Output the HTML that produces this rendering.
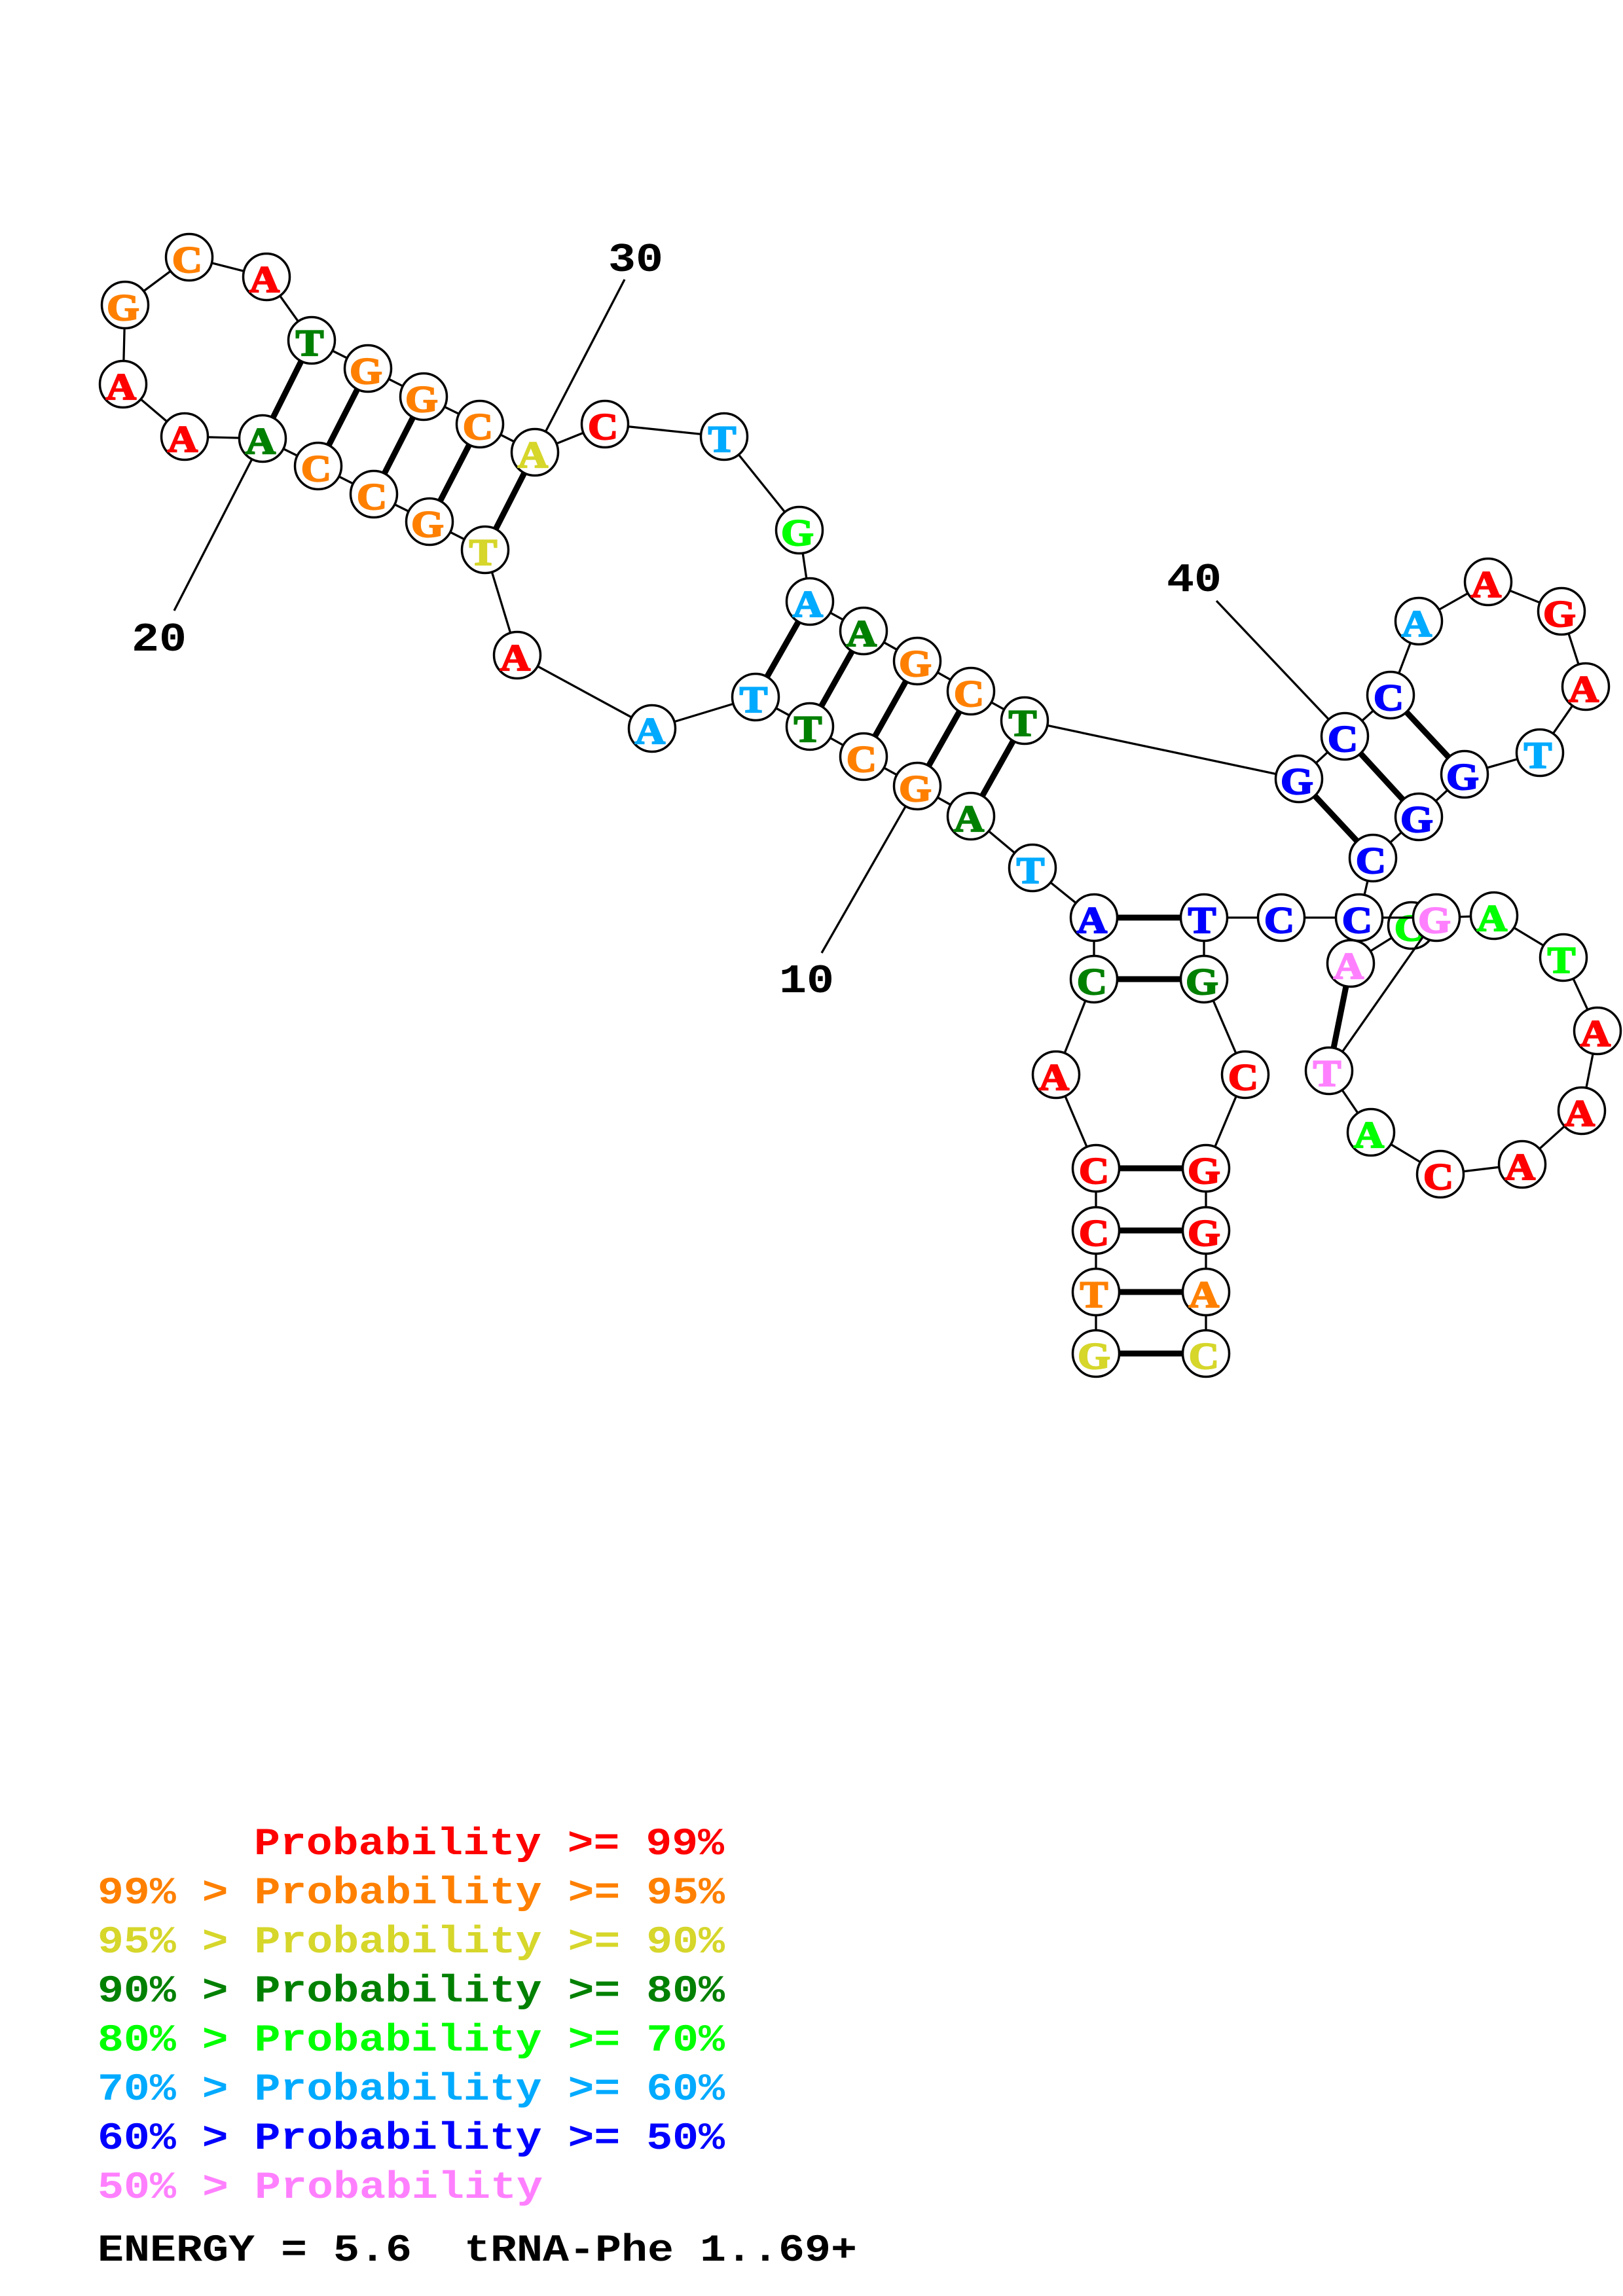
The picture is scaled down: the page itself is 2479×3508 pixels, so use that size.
<!DOCTYPE html>
<html>
<head>
<meta charset="utf-8">
<title>tRNA-Phe structure</title>
<style>
html,body{margin:0;padding:0;background:#fff}
svg{display:block}
.bb line{stroke:#000;stroke-width:3.3}
.bp line{stroke:#000;stroke-width:9}
circle{fill:#fff;stroke:#000;stroke-width:3.5}
.n text{font-family:"Liberation Serif",serif;font-weight:bold;font-size:57px;text-anchor:middle;stroke-width:2.2px;transform-box:fill-box;transform-origin:center;transform:translateY(-1px) scaleX(1.12)}
.leg text,.lab text{font-family:"Liberation Mono",monospace;font-weight:bold;white-space:pre}
.leg text{font-size:58px}
.lab text{font-size:62px}
.r{fill:#ff0000;stroke:#ff0000}
.o{fill:#ff8000;stroke:#ff8000}
.y{fill:#d6d62b;stroke:#d6d62b}
.d{fill:#008000;stroke:#008000}
.m{fill:#00ff00;stroke:#00ff00}
.l{fill:#00aaff;stroke:#00aaff}
.b{fill:#0000ff;stroke:#0000ff}
.p{fill:#ff80ff;stroke:#ff80ff}
.leg .r,.leg .o,.leg .y,.leg .d,.leg .m,.leg .l,.leg .b,.leg .p{stroke:none}
</style>
</head>
<body>
<svg xmlns="http://www.w3.org/2000/svg" width="2479" height="3508" viewBox="0 0 2479 3508">
<rect width="2479" height="3508" fill="#fff"/>

<g class="bb"><line x1="2063" y1="1472" x2="2156" y2="1414"/></g>
<g class="n"><circle cx="2156" cy="1414" r="35.5"/><text x="2153" y="1438" class="m">C</text></g>

<g class="bb">
<line x1="1674" y1="2068" x2="1674" y2="1974"/>
<line x1="1674" y1="1974" x2="1674" y2="1880"/>
<line x1="1674" y1="1880" x2="1674" y2="1785"/>
<line x1="1674" y1="1785" x2="1613" y2="1642"/>
<line x1="1613" y1="1642" x2="1671" y2="1496"/>
<line x1="1671" y1="1496" x2="1671" y2="1402"/>
<line x1="1671" y1="1402" x2="1577" y2="1326"/>
<line x1="1577" y1="1326" x2="1483" y2="1247"/>
<line x1="1483" y1="1247" x2="1401" y2="1201"/>
<line x1="1401" y1="1201" x2="1319" y2="1156"/>
<line x1="1319" y1="1156" x2="1237" y2="1110"/>
<line x1="1237" y1="1110" x2="1154" y2="1065"/>
<line x1="1154" y1="1065" x2="996" y2="1113"/>
<line x1="996" y1="1113" x2="790" y2="1001"/>
<line x1="790" y1="1001" x2="741" y2="840"/>
<line x1="741" y1="840" x2="656" y2="797"/>
<line x1="656" y1="797" x2="571" y2="755"/>
<line x1="571" y1="755" x2="486" y2="712"/>
<line x1="486" y1="712" x2="401" y2="670"/>
<line x1="401" y1="670" x2="282" y2="667"/>
<line x1="282" y1="667" x2="188" y2="587"/>
<line x1="188" y1="587" x2="191" y2="466"/>
<line x1="191" y1="466" x2="289" y2="393"/>
<line x1="289" y1="393" x2="407" y2="423"/>
<line x1="407" y1="423" x2="476" y2="520"/>
<line x1="476" y1="520" x2="562" y2="563"/>
<line x1="562" y1="563" x2="647" y2="606"/>
<line x1="647" y1="606" x2="733" y2="648"/>
<line x1="733" y1="648" x2="817" y2="691"/>
<line x1="817" y1="691" x2="924" y2="648"/>
<line x1="924" y1="648" x2="1106" y2="667"/>
<line x1="1106" y1="667" x2="1221" y2="810"/>
<line x1="1221" y1="810" x2="1237" y2="919"/>
<line x1="1237" y1="919" x2="1319" y2="964"/>
<line x1="1319" y1="964" x2="1401" y2="1010"/>
<line x1="1401" y1="1010" x2="1483" y2="1056"/>
<line x1="1483" y1="1056" x2="1565" y2="1101"/>
<line x1="1565" y1="1101" x2="1984" y2="1190"/>
<line x1="1984" y1="1190" x2="2054" y2="1125"/>
<line x1="2054" y1="1125" x2="2124" y2="1062"/>
<line x1="2124" y1="1062" x2="2167" y2="949"/>
<line x1="2167" y1="949" x2="2273" y2="889"/>
<line x1="2273" y1="889" x2="2385" y2="934"/>
<line x1="2385" y1="934" x2="2422" y2="1049"/>
<line x1="2422" y1="1049" x2="2352" y2="1150"/>
<line x1="2352" y1="1150" x2="2237" y2="1183"/>
<line x1="2237" y1="1183" x2="2167" y2="1248"/>
<line x1="2167" y1="1248" x2="2097" y2="1311"/>
<line x1="2097" y1="1311" x2="2076" y2="1402"/>
<line x1="2076" y1="1402" x2="1957" y2="1402"/>
<line x1="1957" y1="1402" x2="1839" y2="1402"/>
<line x1="1839" y1="1402" x2="1839" y2="1496"/>
<line x1="1839" y1="1496" x2="1902" y2="1642"/>
<line x1="1902" y1="1642" x2="1842" y2="1785"/>
<line x1="1842" y1="1785" x2="1842" y2="1880"/>
<line x1="1842" y1="1880" x2="1842" y2="1974"/>
<line x1="1842" y1="1974" x2="1842" y2="2068"/>
<line x1="2076" y1="1402" x2="2194" y2="1402"/>
<line x1="2194" y1="1402" x2="2282" y2="1399"/>
<line x1="2282" y1="1399" x2="2388" y2="1463"/>
<line x1="2388" y1="1463" x2="2440" y2="1575"/>
<line x1="2440" y1="1575" x2="2416" y2="1697"/>
<line x1="2416" y1="1697" x2="2325" y2="1779"/>
<line x1="2325" y1="1779" x2="2200" y2="1794"/>
<line x1="2200" y1="1794" x2="2094" y2="1730"/>
<line x1="2094" y1="1730" x2="2030" y2="1636"/>
<line x1="2030" y1="1636" x2="2194" y2="1402"/>
<line x1="401" y1="670" x2="266" y2="933"/>
<line x1="1401" y1="1201" x2="1255" y2="1456"/>
<line x1="817" y1="691" x2="954" y2="427"/>
<line x1="2054" y1="1125" x2="1858" y2="918"/>
</g>

<g class="bp">
<line x1="401" y1="670" x2="476" y2="520"/>
<line x1="486" y1="712" x2="562" y2="563"/>
<line x1="571" y1="755" x2="647" y2="606"/>
<line x1="656" y1="797" x2="733" y2="648"/>
<line x1="741" y1="840" x2="817" y2="691"/>
<line x1="1154" y1="1065" x2="1237" y2="919"/>
<line x1="1237" y1="1110" x2="1319" y2="964"/>
<line x1="1319" y1="1156" x2="1401" y2="1010"/>
<line x1="1401" y1="1201" x2="1483" y2="1056"/>
<line x1="1483" y1="1247" x2="1565" y2="1101"/>
<line x1="1984" y1="1190" x2="2097" y2="1311"/>
<line x1="2054" y1="1125" x2="2167" y2="1248"/>
<line x1="2124" y1="1062" x2="2237" y2="1183"/>
<line x1="1671" y1="1402" x2="1839" y2="1402"/>
<line x1="1671" y1="1496" x2="1839" y2="1496"/>
<line x1="1674" y1="1785" x2="1842" y2="1785"/>
<line x1="1674" y1="1880" x2="1842" y2="1880"/>
<line x1="1674" y1="1974" x2="1842" y2="1974"/>
<line x1="1674" y1="2068" x2="1842" y2="2068"/>
<line x1="2063" y1="1472" x2="2030" y2="1636"/>
</g>

<g class="n">
<circle cx="1674" cy="2068" r="35.5"/><text x="1671" y="2092" class="y">G</text>
<circle cx="1674" cy="1974" r="35.5"/><text x="1671" y="1998" class="o">T</text>
<circle cx="1674" cy="1880" r="35.5"/><text x="1671" y="1904" class="r">C</text>
<circle cx="1674" cy="1785" r="35.5"/><text x="1671" y="1809" class="r">C</text>
<circle cx="1613" cy="1642" r="35.5"/><text x="1610" y="1666" class="r">A</text>
<circle cx="1671" cy="1496" r="35.5"/><text x="1668" y="1520" class="d">C</text>
<circle cx="1671" cy="1402" r="35.5"/><text x="1668" y="1426" class="b">A</text>
<circle cx="1577" cy="1326" r="35.5"/><text x="1574" y="1350" class="l">T</text>
<circle cx="1483" cy="1247" r="35.5"/><text x="1480" y="1271" class="d">A</text>
<circle cx="1401" cy="1201" r="35.5"/><text x="1398" y="1225" class="o">G</text>
<circle cx="1319" cy="1156" r="35.5"/><text x="1316" y="1180" class="o">C</text>
<circle cx="1237" cy="1110" r="35.5"/><text x="1234" y="1134" class="d">T</text>
<circle cx="1154" cy="1065" r="35.5"/><text x="1151" y="1089" class="l">T</text>
<circle cx="996" cy="1113" r="35.5"/><text x="993" y="1137" class="l">A</text>
<circle cx="790" cy="1001" r="35.5"/><text x="787" y="1025" class="r">A</text>
<circle cx="741" cy="840" r="35.5"/><text x="738" y="864" class="y">T</text>
<circle cx="656" cy="797" r="35.5"/><text x="653" y="821" class="o">G</text>
<circle cx="571" cy="755" r="35.5"/><text x="568" y="779" class="o">C</text>
<circle cx="486" cy="712" r="35.5"/><text x="483" y="736" class="o">C</text>
<circle cx="401" cy="670" r="35.5"/><text x="398" y="694" class="d">A</text>
<circle cx="282" cy="667" r="35.5"/><text x="279" y="691" class="r">A</text>
<circle cx="188" cy="587" r="35.5"/><text x="185" y="611" class="r">A</text>
<circle cx="191" cy="466" r="35.5"/><text x="188" y="490" class="o">G</text>
<circle cx="289" cy="393" r="35.5"/><text x="286" y="417" class="o">C</text>
<circle cx="407" cy="423" r="35.5"/><text x="404" y="447" class="r">A</text>
<circle cx="476" cy="520" r="35.5"/><text x="473" y="544" class="d">T</text>
<circle cx="562" cy="563" r="35.5"/><text x="559" y="587" class="o">G</text>
<circle cx="647" cy="606" r="35.5"/><text x="644" y="630" class="o">G</text>
<circle cx="733" cy="648" r="35.5"/><text x="730" y="672" class="o">C</text>
<circle cx="817" cy="691" r="35.5"/><text x="814" y="715" class="y">A</text>
<circle cx="924" cy="648" r="35.5"/><text x="921" y="672" class="r">C</text>
<circle cx="1106" cy="667" r="35.5"/><text x="1103" y="691" class="l">T</text>
<circle cx="1221" cy="810" r="35.5"/><text x="1218" y="834" class="m">G</text>
<circle cx="1237" cy="919" r="35.5"/><text x="1234" y="943" class="l">A</text>
<circle cx="1319" cy="964" r="35.5"/><text x="1316" y="988" class="d">A</text>
<circle cx="1401" cy="1010" r="35.5"/><text x="1398" y="1034" class="o">G</text>
<circle cx="1483" cy="1056" r="35.5"/><text x="1480" y="1080" class="o">C</text>
<circle cx="1565" cy="1101" r="35.5"/><text x="1562" y="1125" class="d">T</text>
<circle cx="1984" cy="1190" r="35.5"/><text x="1981" y="1214" class="b">G</text>
<circle cx="2054" cy="1125" r="35.5"/><text x="2051" y="1149" class="b">C</text>
<circle cx="2124" cy="1062" r="35.5"/><text x="2121" y="1086" class="b">C</text>
<circle cx="2167" cy="949" r="35.5"/><text x="2164" y="973" class="l">A</text>
<circle cx="2273" cy="889" r="35.5"/><text x="2270" y="913" class="r">A</text>
<circle cx="2385" cy="934" r="35.5"/><text x="2382" y="958" class="r">G</text>
<circle cx="2422" cy="1049" r="35.5"/><text x="2419" y="1073" class="r">A</text>
<circle cx="2352" cy="1150" r="35.5"/><text x="2349" y="1174" class="l">T</text>
<circle cx="2237" cy="1183" r="35.5"/><text x="2234" y="1207" class="b">G</text>
<circle cx="2167" cy="1248" r="35.5"/><text x="2164" y="1272" class="b">G</text>
<circle cx="2097" cy="1311" r="35.5"/><text x="2094" y="1335" class="b">C</text>
<circle cx="2076" cy="1402" r="35.5"/><text x="2073" y="1426" class="b">C</text>
<circle cx="2063" cy="1472" r="35.5"/><text x="2060" y="1496" class="p">A</text>
<circle cx="2194" cy="1402" r="35.5"/><text x="2191" y="1426" class="p">G</text>
<circle cx="2282" cy="1399" r="35.5"/><text x="2279" y="1423" class="m">A</text>
<circle cx="2388" cy="1463" r="35.5"/><text x="2385" y="1487" class="m">T</text>
<circle cx="2440" cy="1575" r="35.5"/><text x="2437" y="1599" class="r">A</text>
<circle cx="2416" cy="1697" r="35.5"/><text x="2413" y="1721" class="r">A</text>
<circle cx="2325" cy="1779" r="35.5"/><text x="2322" y="1803" class="r">A</text>
<circle cx="2200" cy="1794" r="35.5"/><text x="2197" y="1818" class="r">C</text>
<circle cx="2094" cy="1730" r="35.5"/><text x="2091" y="1754" class="m">A</text>
<circle cx="2030" cy="1636" r="35.5"/><text x="2027" y="1660" class="p">T</text>
<circle cx="1957" cy="1402" r="35.5"/><text x="1954" y="1426" class="b">C</text>
<circle cx="1839" cy="1402" r="35.5"/><text x="1836" y="1426" class="b">T</text>
<circle cx="1839" cy="1496" r="35.5"/><text x="1836" y="1520" class="d">G</text>
<circle cx="1902" cy="1642" r="35.5"/><text x="1899" y="1666" class="r">C</text>
<circle cx="1842" cy="1785" r="35.5"/><text x="1839" y="1809" class="r">G</text>
<circle cx="1842" cy="1880" r="35.5"/><text x="1839" y="1904" class="r">G</text>
<circle cx="1842" cy="1974" r="35.5"/><text x="1839" y="1998" class="o">A</text>
<circle cx="1842" cy="2068" r="35.5"/><text x="1839" y="2092" class="y">C</text>
</g>

<g class="lab">
<text x="201" y="994" textLength="84" lengthAdjust="spacingAndGlyphs">20</text>
<text x="1190" y="1516" textLength="84" lengthAdjust="spacingAndGlyphs">10</text>
<text x="929" y="414" textLength="84" lengthAdjust="spacingAndGlyphs">30</text>
<text x="1782" y="903" textLength="84" lengthAdjust="spacingAndGlyphs">40</text>
</g>

<g class="leg">
<text x="388" y="2833" class="r" textLength="718" lengthAdjust="spacingAndGlyphs" xml:space="preserve">Probability &gt;= 99%</text>
<text x="149" y="2908" class="o" textLength="958" lengthAdjust="spacingAndGlyphs" xml:space="preserve">99% &gt; Probability &gt;= 95%</text>
<text x="149" y="2983" class="y" textLength="958" lengthAdjust="spacingAndGlyphs" xml:space="preserve">95% &gt; Probability &gt;= 90%</text>
<text x="149" y="3058" class="d" textLength="958" lengthAdjust="spacingAndGlyphs" xml:space="preserve">90% &gt; Probability &gt;= 80%</text>
<text x="149" y="3133" class="m" textLength="958" lengthAdjust="spacingAndGlyphs" xml:space="preserve">80% &gt; Probability &gt;= 70%</text>
<text x="149" y="3208" class="l" textLength="958" lengthAdjust="spacingAndGlyphs" xml:space="preserve">70% &gt; Probability &gt;= 60%</text>
<text x="149" y="3283" class="b" textLength="958" lengthAdjust="spacingAndGlyphs" xml:space="preserve">60% &gt; Probability &gt;= 50%</text>
<text x="149" y="3358" class="p" textLength="680" lengthAdjust="spacingAndGlyphs" xml:space="preserve">50% &gt; Probability</text>
<text x="149" y="3454" fill="#000" textLength="1160" lengthAdjust="spacingAndGlyphs" xml:space="preserve">ENERGY = 5.6  tRNA-Phe 1..69+</text>
</g>
</svg>
</body>
</html>
